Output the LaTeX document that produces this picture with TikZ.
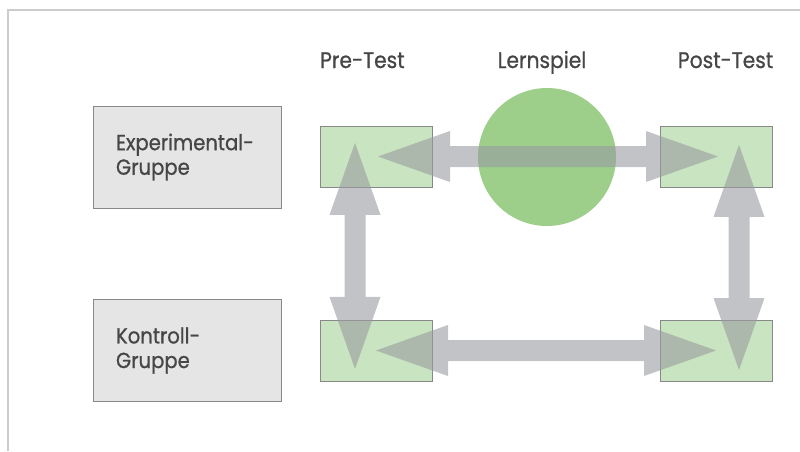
\documentclass[tikz,border=0pt]{standalone}
\usepackage{fontspec}
\setmainfont{Poppins}[FakeStretch=0.9, FakeBold=0.8]
\usepackage{xcolor}
\usetikzlibrary{
	arrows.meta,
	positioning
}
\definecolor{FrameGray}{RGB}{204,204,204}
\definecolor{BoxGray}{RGB}{229,229,229}
\definecolor{EdgeGray}{RGB}{136,136,136}
\definecolor{TestGreen}{RGB}{201,228,192}
\definecolor{GameGreen}{RGB}{157,207,138}
\definecolor{ArrowGray}{RGB}{153,155,160}
\definecolor{TextGray}{RGB}{70,70,70}

\tikzset{
	groupbox/.style={draw=EdgeGray, fill=BoxGray, line width=0.6pt, minimum width=4.7cm, minimum height=2.55cm,
		text width=3.55cm, inner xsep=0.575cm, align=left, font=\fontsize{15.5}{17.5}\selectfont, text=TextGray},
	testbox/.style={draw=EdgeGray, fill=TestGreen, line width=0.6pt, minimum width=2.8cm, minimum height=1.525cm},
	header/.style={font=\fontsize{16}{18}\selectfont, text=TextGray, anchor=base},
	bigarrow/.style={ArrowGray, line width=0.525cm,
		{Triangle[length=1.8cm, width=1.275cm, line width=0pt]}-{Triangle[length=1.8cm, width=1.275cm, line width=0pt]}}
}

\begin{document}
\begin{tikzpicture}
		\useasboundingbox (0,0) rectangle (20,-11.275);
		% frame
		\draw[FrameGray, line width=0.8pt] (0.2,-11.275)--(0.2,-0.25)--(20,-0.25);
		% column headers
		\node[header] (pretitle) at (9.06,-1.7) {Pre-Test};
		\node[header] (gametitle) at (13.55,-1.7) {Lernspiel};
		\node[header] (posttitle) at (18.14,-1.7) {Post-Test};
		% groups
		\node[groupbox] (expgroup) at (4.675,-3.925) {Experimental-\\Gruppe};
		\node[groupbox] (ctrlgroup) at (4.675,-8.7625) {Kontroll-\\Gruppe};
		% tests
		\node[testbox] (preexp) at (9.4,-3.9125) {};
		\node[testbox] (postexp) at (17.9,-3.9125) {};
		\node[testbox] (prectrl) at (9.4,-8.7625) {};
		\node[testbox] (postctrl) at (17.9,-8.7625) {};
		% game
		\fill[GameGreen] (13.675,-3.925) circle (1.725cm);
		\coordinate (game) at (13.675,-3.925);
		% comparisons
		\begin{scope}[transparency group, opacity=0.6]
			\draw[bigarrow] ([xshift=0.05cm]preexp.center)--([xshift=0.05cm]postexp.center);
			\draw[bigarrow] (prectrl.center)--(postctrl.center);
			\draw[bigarrow] ([shift={(-0.525,0.34)}]preexp.center)--([shift={(-0.525,-0.46)}]prectrl.center);
			\draw[bigarrow] ([shift={(0.575,0.29)}]postexp.center)--([shift={(0.575,-0.49)}]postctrl.center);
		\end{scope}
	\end{tikzpicture}
\end{document}
